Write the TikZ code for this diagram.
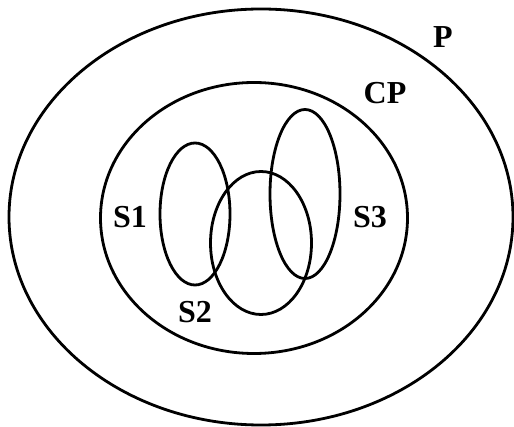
\documentclass[tikz,border=0pt]{standalone}
\usepackage{fontspec}
\setmainfont{Liberation Serif}
\usetikzlibrary{shapes.geometric}
\begin{document}
\begin{tikzpicture}[x=1pt,y=-1pt,
  setring/.style={draw=black, line width=2.8pt, ellipse, inner sep=0pt},
  setlabel/.style={font=\fontsize{32}{32}\selectfont\bfseries, inner sep=0pt, text=black}]
\useasboundingbox[fill=white] (0,0) rectangle (514,427);
\node[setring, minimum width=504pt, minimum height=416pt] (P) at (261,217) {};
\node[setring, minimum width=307pt, minimum height=271pt] (CP) at (254,218) {};
\node[setring, minimum width=70pt, minimum height=142pt] (S1) at (195,214) {};
\node[setring, minimum width=101pt, minimum height=143pt] (S2) at (261,243) {};
\node[setring, minimum width=70pt, minimum height=169pt] (S3) at (305,194) {};
\node[setlabel] (lP) at (443,37) {P};
\node[setlabel] (lCP) at (385,93) {CP};
\node[setlabel] (lS1) at (130,217) {S1};
\node[setlabel] (lS3) at (370,217) {S3};
\node[setlabel] (lS2) at (195,312) {S2};
\end{tikzpicture}
\end{document}
